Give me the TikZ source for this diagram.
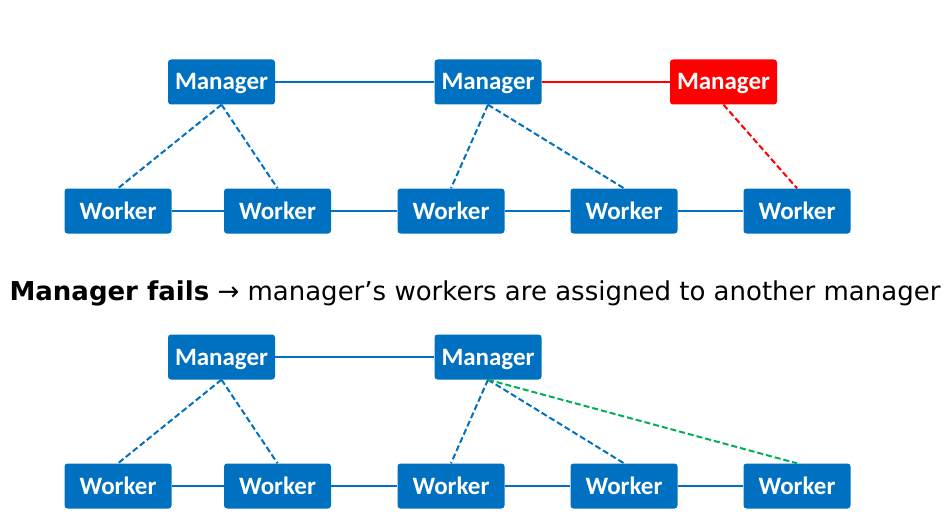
\documentclass[tikz,border=0pt]{standalone}
\usepackage{fontspec}
\setmainfont{Carlito}
\newfontfamily\capfont{DejaVu Sans}
\definecolor{mgrblue}{HTML}{0070C0}
\definecolor{mgrred}{HTML}{FF0000}
\definecolor{newgreen}{HTML}{00B050}

\begin{document}
\begin{tikzpicture}[x=1pt,y=-1pt,
  box/.style={fill=mgrblue, rounded corners=3pt, minimum width=107pt, minimum height=45pt,
    inner sep=0pt, text height=16pt, text depth=0pt, text=white,
    font=\bfseries\fontsize{25}{25}\selectfont},
  link/.style={mgrblue, line width=2pt},
  tie/.style={mgrblue, line width=2pt, dash pattern=on 6pt off 3pt}]
\useasboundingbox (0,0) rectangle (949,516);
% before the failure
\node [box] (m1) at (221.5,82) {Manager};
\node [box] (m2) at (488,82) {Manager};
\node [box, fill=mgrred] (m3) at (723.5,82) {Manager};
\node [box] (w1) at (118,211) {Worker};
\node [box] (w2) at (277.5,211) {Worker};
\node [box] (w3) at (451,211) {Worker};
\node [box] (w4) at (624,211) {Worker};
\node [box] (w5) at (797,211) {Worker};
\draw [link] (m1) -- (m2);
\draw [link, mgrred] (m2) -- (m3);
\draw [link] (w1) -- (w2) -- (w3) -- (w4) -- (w5);
\draw [tie] (m1.south) -- (w1.north);
\draw [tie] (m1.south) -- (w2.north);
\draw [tie] (m2.south) -- (w3.north);
\draw [tie] (m2.south) -- (w4.north);
\draw [tie, mgrred] (m3.south) -- (w5.north);
% caption
\node [font=\capfont\fontsize{26}{30}\selectfont] (cap) at (475,293)
  {\textbf{Manager fails} → manager’s workers are assigned to another manager};
% after the failure
\node [box] (n1) at (221.5,357) {Manager};
\node [box] (n2) at (488,357) {Manager};
\node [box] (v1) at (118,486) {Worker};
\node [box] (v2) at (277.5,486) {Worker};
\node [box] (v3) at (451,486) {Worker};
\node [box] (v4) at (624,486) {Worker};
\node [box] (v5) at (797,486) {Worker};
\draw [link] (n1) -- (n2);
\draw [link] (v1) -- (v2) -- (v3) -- (v4) -- (v5);
\draw [tie] (n1.south) -- (v1.north);
\draw [tie] (n1.south) -- (v2.north);
\draw [tie] (n2.south) -- (v3.north);
\draw [tie] (n2.south) -- (v4.north);
\draw [tie, newgreen] (n2.south) -- (v5.north);
\end{tikzpicture}
\end{document}
